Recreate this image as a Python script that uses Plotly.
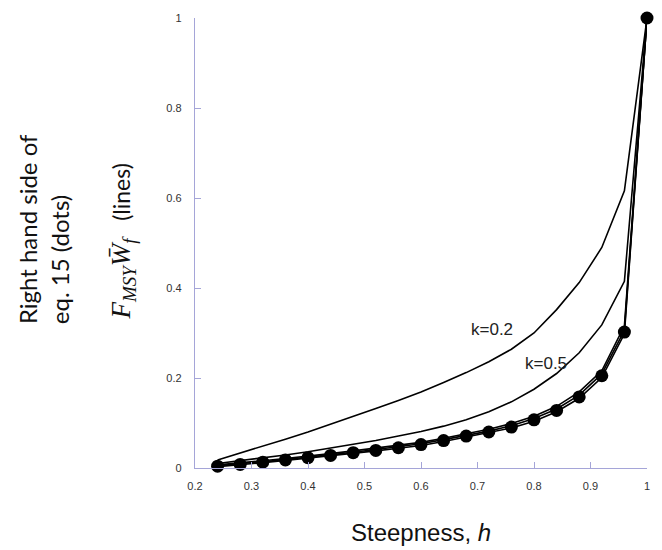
import plotly.graph_objects as go

# ---- data ----
steepness = [0.24, 0.28, 0.32, 0.36, 0.40, 0.44, 0.48, 0.52, 0.56, 0.60,
             0.64, 0.68, 0.72, 0.76, 0.80, 0.84, 0.88, 0.92, 0.96, 1.00]

line_k02 = [0.018, 0.033, 0.048, 0.064, 0.080, 0.097, 0.114, 0.132, 0.150, 0.169,
            0.190, 0.212, 0.236, 0.264, 0.300, 0.352, 0.412, 0.490, 0.616, 1.000]
line_k05 = [0.010, 0.016, 0.022, 0.029, 0.036, 0.044, 0.052, 0.061, 0.071, 0.081,
            0.093, 0.107, 0.125, 0.147, 0.175, 0.210, 0.256, 0.318, 0.415, 1.000]
line_k1 = [0.007, 0.011, 0.016, 0.021, 0.026, 0.032, 0.038, 0.044, 0.050, 0.057,
           0.066, 0.076, 0.086, 0.099, 0.115, 0.137, 0.169, 0.216, 0.316, 1.000]
line_k2 = [0.005, 0.009, 0.014, 0.019, 0.024, 0.029, 0.035, 0.041, 0.047, 0.054,
           0.063, 0.073, 0.082, 0.094, 0.110, 0.131, 0.162, 0.209, 0.306, 1.000]
line_k5 = [0.003, 0.007, 0.012, 0.017, 0.022, 0.027, 0.033, 0.038, 0.044, 0.050,
           0.059, 0.069, 0.078, 0.089, 0.104, 0.125, 0.155, 0.201, 0.298, 1.000]

dots_rhs = [0.004, 0.008, 0.013, 0.018, 0.023, 0.028, 0.034, 0.039, 0.045, 0.052,
            0.061, 0.071, 0.080, 0.091, 0.107, 0.128, 0.158, 0.205, 0.302, 1.000]

x_ticks = [0.2, 0.3, 0.4, 0.5, 0.6, 0.7, 0.8, 0.9, 1.0]
x_tick_labels = ["0.2", "0.3", "0.4", "0.5", "0.6", "0.7", "0.8", "0.9", "1"]
y_ticks = [0, 0.2, 0.4, 0.6, 0.8, 1.0]
y_tick_labels = ["0", "0.2", "0.4", "0.6", "0.8", "1"]

curve_labels = ["k=0.2", "k=0.5"]
curve_label_x = [0.726, 0.822]
curve_label_y = [0.308, 0.233]

AXIS_COLOR = "#a5a5d8"

fig = go.Figure()
for ys in [line_k02, line_k05, line_k1, line_k2, line_k5]:
    fig.add_trace(go.Scatter(x=steepness, y=ys, mode="lines",
                             line=dict(color="black", width=1.6),
                             cliponaxis=False, showlegend=False, hoverinfo="skip"))
fig.add_trace(go.Scatter(x=steepness, y=dots_rhs, mode="markers",
                         marker=dict(color="black", size=13),
                         cliponaxis=False, showlegend=False))

for t, xx, yy in zip(curve_labels, curve_label_x, curve_label_y):
    fig.add_annotation(x=xx, y=yy, xref="x", yref="y", text=t, showarrow=False,
                       font=dict(family="Liberation Sans", size=17, color="#222"),
                       xanchor="center", yanchor="middle")

# axis titles
fig.add_annotation(x=-0.372, y=0.315, xref="paper", yref="paper",
                   text="Right hand side of", textangle=-90, showarrow=False,
                   font=dict(family="Lato", size=24, color="#111"),
                   xanchor="center", yanchor="bottom")
fig.add_annotation(x=-0.300, y=0.315, xref="paper", yref="paper",
                   text="eq. 15 (dots)", textangle=-90, showarrow=False,
                   font=dict(family="Lato", size=24, color="#111"),
                   xanchor="center", yanchor="bottom")
fig.add_annotation(x=-0.160, y=0.325, xref="paper", yref="paper",
                   text="<i>F</i><sub><i>MSY</i></sub><i>W\u0304</i><sub><i>f</i></sub>"
                        "<span style='font-family:Lato;font-size:23px'>&nbsp;&nbsp;&nbsp;(lines)</span>",
                   textangle=-90, showarrow=False,
                   font=dict(family="Liberation Serif", size=27, color="#111"),
                   xanchor="center", yanchor="bottom")
fig.add_annotation(x=0.50, y=-0.143, xref="paper", yref="paper",
                   text="Steepness, <i>h</i>", showarrow=False,
                   font=dict(family="Liberation Sans", size=24, color="#111"),
                   xanchor="center", yanchor="middle")

fig.update_xaxes(range=[0.2, 1.0], tickvals=x_ticks, ticktext=x_tick_labels,
                 showgrid=False, zeroline=False, showline=True, linecolor=AXIS_COLOR,
                 linewidth=1.3, ticks="inside", ticklen=6, tickcolor=AXIS_COLOR,
                 tickfont=dict(family="Liberation Sans", size=11, color="#333"),
                 ticklabelstandoff=8)
fig.update_yaxes(range=[0, 1.0], tickvals=y_ticks, ticktext=y_tick_labels,
                 showgrid=False, zeroline=False, showline=True, linecolor=AXIS_COLOR,
                 linewidth=1.3, ticks="inside", ticklen=6, tickcolor=AXIS_COLOR,
                 tickfont=dict(family="Liberation Sans", size=11, color="#333"),
                 ticklabelstandoff=10)

fig.update_layout(width=662, height=550, margin=dict(l=195, r=13, t=14, b=82),
                  plot_bgcolor="white", paper_bgcolor="white")
fig.write_html("out.html")
